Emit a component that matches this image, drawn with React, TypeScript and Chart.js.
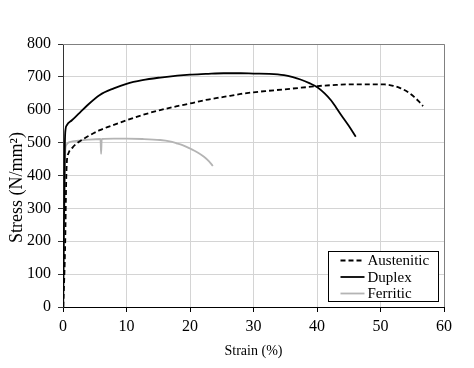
import React, { useEffect, useRef } from "react";
import { Chart, registerables } from "chart.js";

Chart.register(...registerables);

const austeniticStrain = [0.05, 0.35, 0.5, 0.6, 0.85, 1.5, 2.2, 4, 5.8, 8, 10, 12.5, 15.3, 18, 20, 22.5, 25.3, 28, 30, 32, 34.8, 37.5, 40.1, 42.5, 44.8, 47.5, 50.6, 52, 53.2, 54.3, 55.3, 56, 56.7];
const austeniticStress = [0, 200, 380, 440, 467, 485, 498, 520, 538, 554, 568, 584, 599, 611, 619, 630, 639, 648, 653, 657, 662, 667, 672, 675, 677, 677, 677, 673, 665, 654, 639, 626, 611];

const duplexStrain = [0, 0.15, 0.3, 0.4, 0.6, 1.4, 2.7, 3.8, 5.8, 8, 10, 12.5, 15.3, 18, 20, 22.5, 25.3, 28, 30, 32.5, 34.8, 36.2, 37.4, 38.8, 40.1, 41.2, 42.2, 43, 43.8, 45, 46.1];
const duplexStress = [0, 250, 500, 540, 553, 568, 592, 613, 645, 665, 679, 690, 698, 704, 707, 709, 711, 711, 710, 709, 705, 699, 692, 681, 668, 650, 629, 607, 584, 551, 518];

const ferriticStrain = [0.1, 0.2, 0.35, 0.5, 1.1, 2.5, 4, 5.9, 6.0, 6.1, 8, 10, 12.5, 15.3, 16.8, 17.9, 19, 20, 21.2, 22.2, 23, 23.6];
const ferriticStress = [0, 250, 470, 492, 502, 506, 509, 511, 466, 511, 512, 512, 511, 508, 504, 498, 491, 482, 470, 457, 443, 429];

const seriesNames = ["Austenitic", "Duplex", "Ferritic"];
const xTicks = [0, 10, 20, 30, 40, 50, 60];
const yTicks = [0, 100, 200, 300, 400, 500, 600, 700, 800];
const yTitle = "Stress (N/mm²)";

const FONT = "'Liberation Serif', 'Times New Roman', serif";

const toPoints = (xs: number[], ys: number[]) => xs.map((x, i) => ({ x, y: ys[i] }));

const framePlugin = {
  id: "frameAndLegend",
  afterDraw(chart: any) {
    const ctx = chart.ctx;
    const a = chart.chartArea;
    ctx.save();
    ctx.strokeStyle = "#808080";
    ctx.lineWidth = 1;
    ctx.beginPath();
    ctx.moveTo(a.left, a.top + 0.5);
    ctx.lineTo(a.right + 0.5, a.top + 0.5);
    ctx.lineTo(a.right + 0.5, a.bottom);
    ctx.stroke();

    // y-axis title (positioned slightly below centre as in the reference)
    ctx.save();
    ctx.translate(a.left - 46, (a.top + a.bottom) / 2 + 12);
    ctx.rotate(-Math.PI / 2);
    ctx.font = `18px ${FONT}`;
    ctx.fillStyle = "#000000";
    ctx.textAlign = "center";
    ctx.textBaseline = "middle";
    ctx.fillText(yTitle, 0, 0);
    ctx.restore();

    const bw = 110;
    const bh = 50;
    const bx = Math.round(a.right - 6 - bw) + 0.5;
    const by = Math.round(a.bottom - 6 - bh) + 0.5;
    ctx.fillStyle = "#ffffff";
    ctx.fillRect(bx, by, bw, bh);
    ctx.strokeStyle = "#000000";
    ctx.lineWidth = 1;
    ctx.strokeRect(bx, by, bw, bh);

    ctx.font = `15px ${FONT}`;
    ctx.textBaseline = "middle";
    ctx.textAlign = "left";
    chart.data.datasets.forEach((ds: any, i: number) => {
      const y = by + 9 + i * 16.5;
      ctx.strokeStyle = ds.borderColor;
      ctx.lineWidth = ds.borderWidth;
      ctx.setLineDash(ds.borderDash || []);
      ctx.beginPath();
      ctx.moveTo(bx + 12, y);
      ctx.lineTo(bx + 36, y);
      ctx.stroke();
      ctx.setLineDash([]);
      ctx.fillStyle = "#000000";
      ctx.fillText(ds.label, bx + 39, y + 1);
    });
    ctx.restore();
  },
};

export default function App() {
  const canvasRef = useRef<HTMLCanvasElement | null>(null);

  useEffect(() => {
    if (!canvasRef.current) return;
    const common = {
      showLine: true,
      pointRadius: 0,
      borderWidth: 1.8,
      cubicInterpolationMode: "monotone" as const,
    };
    const chart = new Chart(canvasRef.current, {
      type: "scatter",
      data: {
        datasets: [
          {
            ...common,
            label: seriesNames[0],
            data: toPoints(austeniticStrain, austeniticStress),
            borderColor: "#000000",
            borderDash: [5, 3],
          },
          {
            ...common,
            label: seriesNames[1],
            data: toPoints(duplexStrain, duplexStress),
            borderColor: "#000000",
          },
          {
            ...common,
            label: seriesNames[2],
            data: toPoints(ferriticStrain, ferriticStress),
            borderColor: "#b4b4b4",
          },
        ],
      },
      options: {
        animation: false,
        responsive: true,
        maintainAspectRatio: false,
        layout: { padding: { top: 44, right: 30, left: 0, bottom: 0 } },
        plugins: {
          legend: { display: false },
          tooltip: { enabled: false },
        },
        scales: {
          x: {
            type: "linear",
            min: 0,
            max: 60,
            afterBuildTicks: (s: any) => {
              s.ticks = xTicks.map((v) => ({ value: v }));
            },
            afterFit: (s: any) => {
              s.height = 61;
            },
            grid: {
              color: "#d4d4d4",
              tickColor: "#000000",
              tickLength: 5,
              drawTicks: true,
            },
            border: { color: "#000000", width: 1 },
            ticks: {
              color: "#000000",
              font: { family: FONT, size: 16 },
              padding: 5,
              maxRotation: 0,
            },
            title: {
              display: true,
              text: "Strain (%)",
              color: "#000000",
              font: { family: FONT, size: 14 },
              padding: { top: 0, bottom: 8 },
            },
          },
          y: {
            type: "linear",
            min: 0,
            max: 800,
            afterBuildTicks: (s: any) => {
              s.ticks = yTicks.map((v) => ({ value: v }));
            },
            afterFit: (s: any) => {
              s.width = 63;
            },
            grid: {
              color: "#d4d4d4",
              tickColor: "#333333",
              tickLength: 5,
              drawTicks: true,
            },
            border: { color: "#333333", width: 1 },
            ticks: {
              color: "#000000",
              font: { family: FONT, size: 16 },
              padding: 7,
            },
            title: { display: false },
          },
        },
      },
      plugins: [framePlugin],
    });
    return () => chart.destroy();
  }, []);

  return (
    <div style={{ position: "fixed", left: 0, top: 0, width: 474, height: 368, background: "#ffffff" }}>
      <canvas ref={canvasRef} />
    </div>
  );
}
